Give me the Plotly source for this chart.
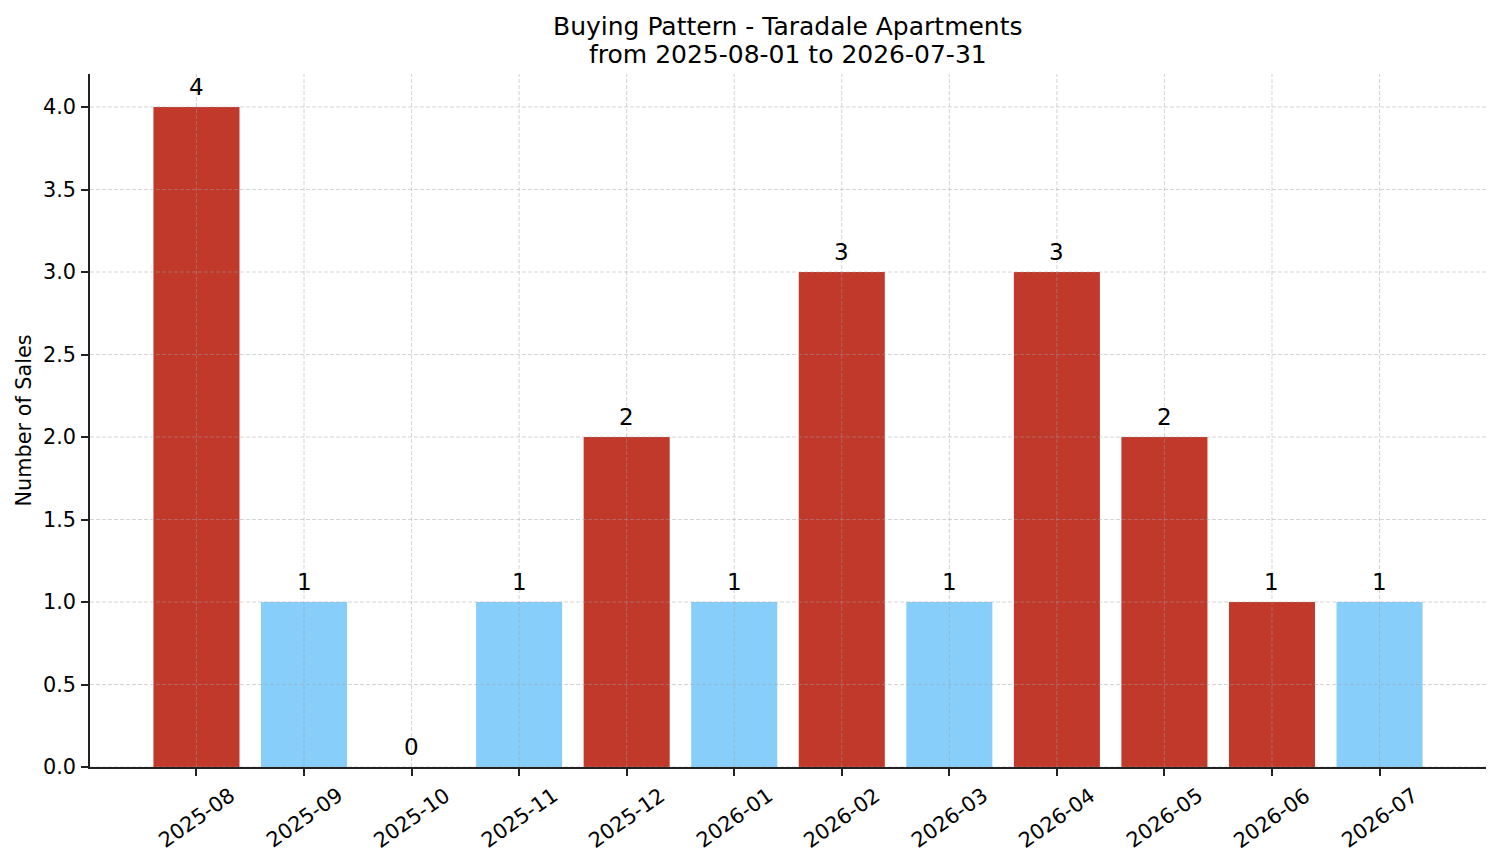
import plotly.graph_objects as go

months = ["2025-08", "2025-09", "2025-10", "2025-11", "2025-12", "2026-01",
          "2026-02", "2026-03", "2026-04", "2026-05", "2026-06", "2026-07"]
sales = [4, 1, 0, 1, 2, 1, 3, 1, 3, 2, 1, 1]
RED = "#c0392b"
BLUE = "#87cefa"
bar_colors = [RED, BLUE, BLUE, BLUE, RED, BLUE, RED, BLUE, RED, RED, RED, BLUE]
y_ticks = [0.0, 0.5, 1.0, 1.5, 2.0, 2.5, 3.0, 3.5, 4.0]
title_lines = ["Buying Pattern - Taradale Apartments", "from 2025-08-01 to 2026-07-31"]
y_label = "Number of Sales"

FONT = "DejaVu Sans"
TXT = "#000000"

fig = go.Figure()
fig.add_trace(go.Bar(
    x=months, y=sales, marker=dict(color=bar_colors, line=dict(width=0)),
    width=0.8, hoverinfo="skip",
))

grid_color = "rgba(160,160,160,0.45)"
shapes = []
for m in months:
    shapes.append(dict(type="line", xref="x", yref="paper", x0=m, x1=m, y0=0, y1=1,
                       line=dict(color=grid_color, width=1, dash="4px,2px"), layer="above"))
for t in y_ticks:
    shapes.append(dict(type="line", xref="paper", yref="y", x0=0, x1=1, y0=t, y1=t,
                       line=dict(color=grid_color, width=1, dash="4px,2px"), layer="above"))

annotations = []
for m, v in zip(months, sales):
    annotations.append(dict(x=m, y=v, xref="x", yref="y", text=str(v), showarrow=False,
                            yanchor="bottom", xanchor="center", yshift=5,
                            font=dict(family=FONT, size=23, color=TXT)))
for m in months:
    annotations.append(dict(x=m, y=0, xref="x", yref="y", text=m, showarrow=False,
                            yanchor="top", xanchor="center", yshift=-13, textangle=-35,
                            font=dict(family=FONT, size=20.8, color=TXT)))
for line, shift in zip(title_lines, [48, 20]):
    annotations.append(dict(x=0.5, y=1, xref="paper", yref="paper", text=line,
                            showarrow=False, yanchor="middle", xanchor="center", yshift=shift,
                            font=dict(family=FONT, size=25, color=TXT)))
annotations.append(dict(x=0, y=0.5, xref="paper", yref="paper", text=y_label, showarrow=False,
                        xanchor="center", yanchor="middle", xshift=-67, textangle=-90,
                        font=dict(family=FONT, size=20.8, color=TXT)))

fig.update_layout(
    width=1501, height=863,
    margin=dict(l=90, r=15, t=74, b=96),
    paper_bgcolor="white", plot_bgcolor="white",
    showlegend=False, bargap=0.2,
    shapes=shapes, annotations=annotations,
    font=dict(family=FONT, size=20.8, color=TXT),
)
fig.update_xaxes(
    type="category", range=[-0.99, 11.99], showgrid=False, showticklabels=False,
    ticks="outside", ticklen=7, tickwidth=1.6, tickcolor="#222222",
    showline=True, linecolor="#222222", linewidth=1.6, zeroline=False,
)
fig.update_yaxes(
    range=[0, 4.2], tickvals=y_ticks, ticktext=[f"{t:.1f}" for t in y_ticks],
    showgrid=False, ticks="outside", ticklen=7, tickwidth=1.6, tickcolor="#222222",
    showline=True, linecolor="#222222", linewidth=1.6, zeroline=False,
    tickfont=dict(family=FONT, size=20.8, color=TXT), ticklabelstandoff=1,
)

fig.write_html("out.html", config={"displayModeBar": False},
               post_script="document.body.style.margin='0';document.body.style.overflow='hidden';")
